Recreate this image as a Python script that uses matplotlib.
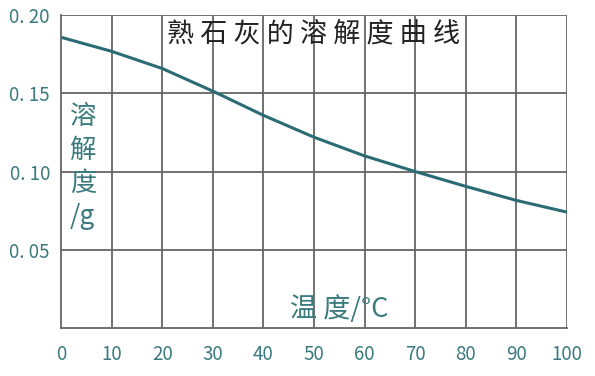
import numpy as np
import matplotlib.pyplot as plt

plt.rcParams['font.family'] = ['Noto Sans CJK SC', 'DejaVu Sans']

temp = [0, 10, 20, 30, 40, 50, 60, 70, 80, 90, 100]
solubility = [0.186, 0.177, 0.166, 0.1515, 0.136, 0.122, 0.110, 0.100, 0.0905, 0.0815, 0.074]
yticks = [0.05, 0.10, 0.15, 0.20]
ytick_labels = ['0. 05', '0. 10', '0. 15', '0. 20']

teal = '#3a7a7e'
line_col = '#2b6c74'
grid_col = '#666666'

fig = plt.figure(figsize=(5.95, 3.76), dpi=100)
ax = fig.add_axes([0.1025, 0.1285, 0.8505, 0.8305])

ax.plot(temp, solubility, color=line_col, lw=2.2)

ax.set_xlim(0, 100)
ax.set_ylim(0, 0.2)
ax.set_xticks(temp)
ax.set_xticklabels([str(t) for t in temp])
ax.set_yticks(yticks)
ax.set_yticklabels(ytick_labels)
ax.tick_params(length=0, labelsize=13.5, labelcolor=teal)
ax.tick_params(axis='x', pad=12)
ax.tick_params(axis='y', pad=8)
for lab in ax.get_xticklabels() + ax.get_yticklabels():
    lab.set_fontweight('light')

for t in temp[1:]:
    ax.axvline(t, color=grid_col, lw=1.3, zorder=0)
for v in yticks:
    ax.axhline(v, color=grid_col, lw=1.3, zorder=0)

for s in ['top', 'right']:
    ax.spines[s].set_visible(False)
for s in ['left', 'bottom']:
    ax.spines[s].set_color(grid_col)
    ax.spines[s].set_linewidth(1.3)

ax.text(0.5, 0.94, '熟 石 灰 的 溶 解 度 曲 线', transform=ax.transAxes, ha='center', va='center',
        fontsize=19.5, color='#222222')
ax.text(0.043, 0.515, '溶\n解\n度\n/g', transform=ax.transAxes, ha='center', va='center',
        fontsize=19, color=teal, fontweight='light', linespacing=1.3)
ax.text(0.55, 0.06, '温 度/°C', transform=ax.transAxes, ha='center', va='center',
        fontsize=19.5, color=teal, fontweight='light')

fig.savefig('out.png', dpi=100)
